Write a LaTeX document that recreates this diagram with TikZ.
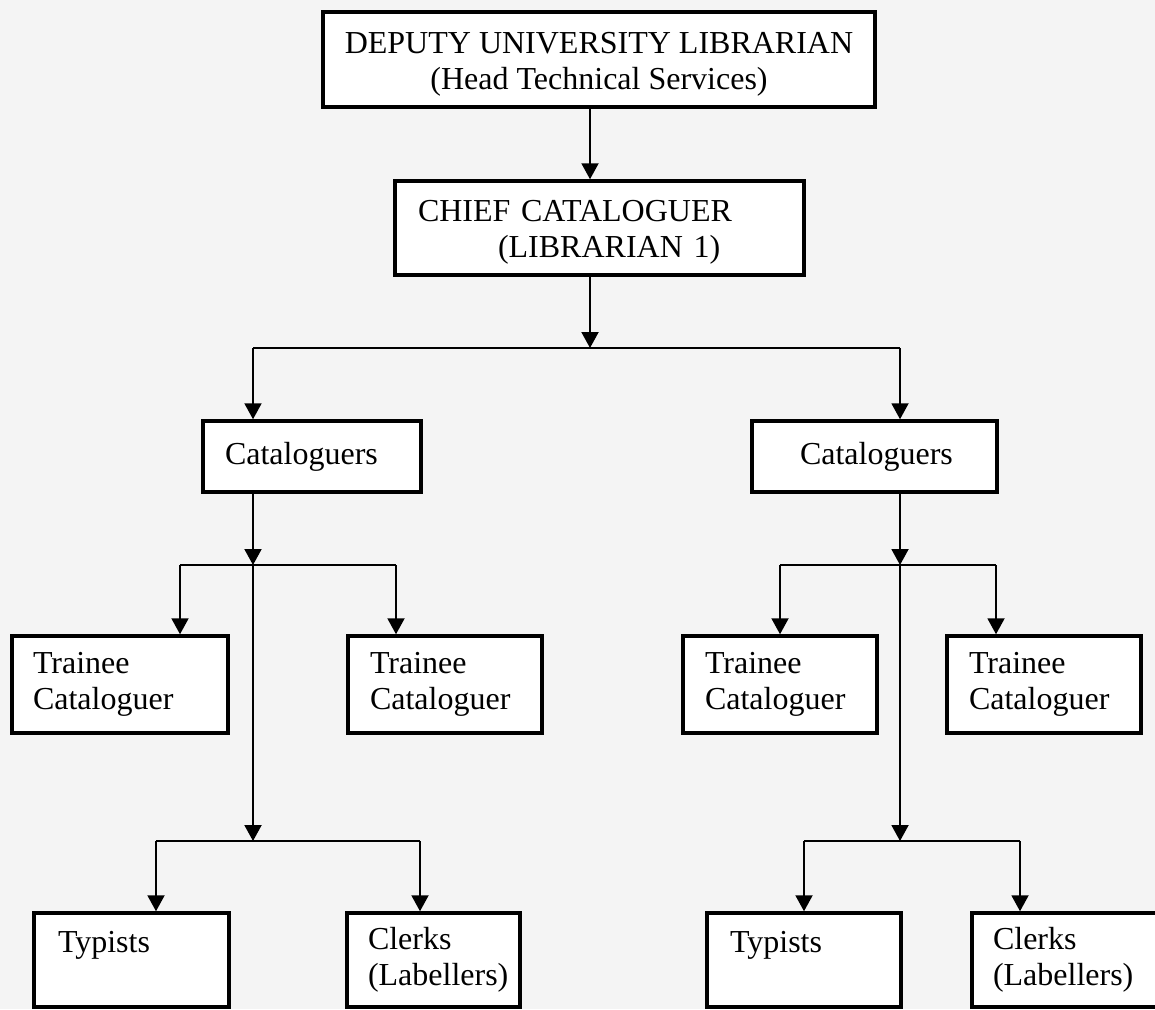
\documentclass[tikz,border=0pt]{standalone}
\usepackage{fontspec}
\setmainfont{Liberation Serif}
\usetikzlibrary{arrows.meta, positioning, calc}
\definecolor{pagegray}{HTML}{F4F4F4}

\begin{document}
\begin{tikzpicture}[
    x=1pt, y=-1pt,
    box/.style={draw, line width=3.5pt, fill=white, inner ysep=0pt, align=left,
                font=\fontsize{32}{36}\selectfont},
    link/.style={line width=2pt},
    arr/.style={link, -{Triangle[width=17pt, length=16pt]}}
]
    \useasboundingbox (0,0) rectangle (1155,1009);
    \fill[pagegray] (0,0) rectangle (1155,1009);

    % Top of the chart
    \node[box, align=center, minimum width=552pt, minimum height=95pt] (dul) at (599,59.5)
        {\rule{0pt}{30pt}DEPUTY UNIVERSITY LIBRARIAN\\(Head Technical Services)};
    \node[box, text width=363pt, inner xsep=23pt, minimum height=94pt] (chief) at (599.5,228)
        {\rule{0pt}{30pt}CHIEF CATALOGUER\\\hspace*{80pt}(LIBRARIAN 1)};

    % Cataloguers
    \node[box, text width=174pt, inner xsep=22pt, minimum height=71pt] (cat1) at (312,456.5) {Cataloguers};
    \node[box, text width=149pt, inner xsep=48pt, minimum height=71pt] (cat2) at (874.5,456.5) {Cataloguers};

    % Trainees
    \node[box, text width=174pt, inner xsep=21pt, minimum height=97pt] (tc1) at (120,684.5) {Trainee\\Cataloguer};
    \node[box, text width=150pt, inner xsep=22pt, minimum height=97pt] (tc2) at (445,684.5) {Trainee\\Cataloguer};
    \node[box, text width=150pt, inner xsep=22pt, minimum height=97pt] (tc3) at (780,684.5) {Trainee\\Cataloguer};
    \node[box, text width=150pt, inner xsep=22pt, minimum height=97pt] (tc4) at (1044,684.5) {Trainee\\Cataloguer};

    % Typists and clerks
    \node[box, text width=147pt, inner xsep=24pt, minimum height=94pt] (typ1) at (131.5,960) {Typists\\\mbox{}};
    \node[box, text width=131pt, inner xsep=21pt, minimum height=94pt] (clk1) at (433.5,960) {Clerks\\(Labellers)};
    \node[box, text width=148pt, inner xsep=23pt, minimum height=94pt] (typ2) at (804,960) {Typists\\\mbox{}};
    \node[box, text width=156pt, inner xsep=21pt, minimum height=94pt] (clk2) at (1071,960) {Clerks\\(Labellers)};

    % Junction points
    \coordinate (j0) at (590,348);
    \coordinate (b1) at (253,348);
    \coordinate (b2) at (900,348);
    \coordinate (l1) at (253,565);
    \coordinate (l2) at (253,841);
    \coordinate (r1) at (900,565);
    \coordinate (r2) at (900,841);
    \coordinate (t1) at (180,565);
    \coordinate (t2) at (396,565);
    \coordinate (t3) at (780,565);
    \coordinate (t4) at (996,565);
    \coordinate (c1) at (156,841);
    \coordinate (c2) at (420,841);
    \coordinate (c3) at (804,841);
    \coordinate (c4) at (1020,841);

    % Head to chief, chief to cataloguers
    \draw[arr] (dul.south -| j0) -- (chief.north -| j0);
    \draw[arr] (chief.south -| j0) -- (j0);
    \draw[link] (b1) -- (b2);
    \draw[arr] (b1) -- (b1 |- cat1.north);
    \draw[arr] (b2) -- (b2 |- cat2.north);

    % Left branch
    \draw[arr] (cat1.south -| l1) -- (l1);
    \draw[arr] (l1) -- (l2);
    \draw[link] (t1) -- (t2);
    \draw[arr] (t1) -- (t1 |- tc1.north);
    \draw[arr] (t2) -- (t2 |- tc2.north);
    \draw[link] (c1) -- (c2);
    \draw[arr] (c1) -- (c1 |- typ1.north);
    \draw[arr] (c2) -- (c2 |- clk1.north);

    % Right branch
    \draw[arr] (cat2.south -| r1) -- (r1);
    \draw[arr] (r1) -- (r2);
    \draw[link] (t3) -- (t4);
    \draw[arr] (t3) -- (t3 |- tc3.north);
    \draw[arr] (t4) -- (t4 |- tc4.north);
    \draw[link] (c3) -- (c4);
    \draw[arr] (c3) -- (c3 |- typ2.north);
    \draw[arr] (c4) -- (c4 |- clk2.north);
\end{tikzpicture}
\end{document}
